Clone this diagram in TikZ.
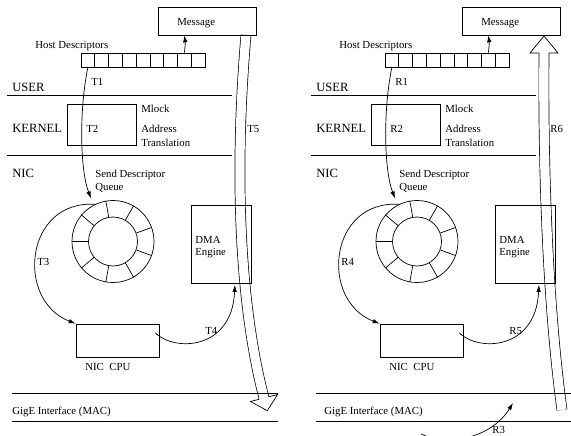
\documentclass[tikz,border=0pt]{standalone}
\usepackage{fontspec}
\setmainfont{Liberation Serif}
\usetikzlibrary{arrows.meta}
\begin{document}
\begin{tikzpicture}[x=1pt,y=-1pt, line width=0.7pt,
  sm/.style={font=\fontsize{10.8}{12}\selectfont, inner sep=0pt, anchor=base west},
  bg/.style={font=\fontsize{12.6}{14}\selectfont, inner sep=0pt, anchor=base west},
  boxn/.style={draw, inner sep=0pt},
  cell/.style={draw, inner sep=0pt, minimum width=13.78pt, minimum height=14pt},
  arr/.style={-{Latex[length=7pt,width=4.5pt]}},
  shaft/.style={double=white, double distance=9.3pt, line width=0.7pt},
]
\useasboundingbox (0,0) rectangle (571,436);
\clip (0,0) rectangle (571,436);

% ---- hollow data-transfer arrows (drawn first, boxes drawn over them)
\coordinate (t5a) at (246,35);
\coordinate (t5b) at (264,398);
\draw[shaft] (t5a) .. controls (236,150) and (236,290) .. (t5b);
\draw[fill=white] (259.2,399.3) -- (250.4,401.5) -- (267.3,410.6) -- (277.6,394.5) -- (268.8,396.7);

\coordinate (r6a) at (562,410);
\coordinate (r6b) at (544,53);
\draw[shaft] (r6a) .. controls (547,300) and (543,160) .. (r6b);
\draw[fill=white] (539,53) -- (530,53) -- (544,36) -- (558,53) -- (549,53);

\node[sm] (t5) at (247,132) {T5};
\node[sm] (r6) at (550,132) {R6};

% ---- two panels
\foreach \s/\dx/\la/\lb/\lc/\ld/\gx in {L/0/T1/T2/T3/T4/12, R/304/R1/R2/R4/R5/20} {
\begin{scope}[xshift=\dx pt]
  % message
  \node[boxn, minimum width=98pt, minimum height=28pt] (msg\s) at (207,21) {};
  \node[sm] (msgt\s) at (177,26) {Message};
  % host descriptors
  \node[sm] (hd\s) at (35,48.3) {Host Descriptors};
  \foreach \i in {0,...,8} {
    \node[cell] (d\s\i) at ({81+13.78*(\i+0.5)},60) {};
  }
  \draw[arr] (d\s7.north) to[bend right=8] (d\s7.north |- msg\s.south);
  \node[sm] (l1\s) at (91,86) {\la};
  % layers
  \node[bg] (user\s) at (12,91.5) {USER};
  \draw (7,95) -- (232,95);
  \node[bg] (kernl\s) at (12,132.5) {KERNEL};
  \node[boxn, minimum width=69pt, minimum height=41pt] (kern\s) at (101.5,124.5) {};
  \node[sm] (l2\s) at (86,132) {\lb};
  \node[sm] (ml\s) at (141,113) {Mlock};
  \node[sm] (ad\s) at (141,132) {Address};
  \node[sm] (tr\s) at (141,146.5) {Translation};
  \draw (7,155) -- (232,155);
  \node[bg] (nic\s) at (12,178) {NIC};
  \node[sm] (sdq\s) at (95,177.7) {Send Descriptor};
  \node[sm] (q\s) at (95,190.7) {Queue};
  % ring
  \node[draw, circle, minimum size=82pt, inner sep=0pt] (ring\s) at (113,241.5) {};
  \node[draw, circle, minimum size=49pt, inner sep=0pt] (hub\s) at (113,241.5) {};
  \foreach \a in {20,60,100,140,220,260,300,340} {
    \draw (hub\s.\a) -- (ring\s.\a);
  }
  \draw[line width=1.2pt] (hub\s.180) -- (ring\s.180);
  % T1
  \draw[arr, shorten >=7pt] (d\s0.south) .. controls (79,110) and (80,170) .. (ring\s.118);
  % NIC CPU
  \node[boxn, minimum width=83pt, minimum height=33pt] (cpu\s) at (117.5,340.5) {};
  \node[sm] (cput\s) at (85,370.7) {NIC\ \ CPU};
  % DMA
  \node[boxn, minimum width=60pt, minimum height=78pt] (dma\s) at (221,244) {};
  \node[sm] (dmat\s) at (195,243) {DMA};
  \node[sm] (eng\s) at (195,255) {Engine};
  % T3
  \draw[arr] (ring\s.116) .. controls (25,200) and (15,300) .. (cpu\s.north west);
  \node[sm] (l3\s) at (37,265) {\lc};
  % T4
  \draw[arr, shorten >=1.5pt] ([xshift=-4pt,yshift=7.5pt]cpu\s.east) .. controls (175,352) and (232,350) .. ([xshift=14pt]dma\s.south);
  \node[sm] (l4\s) at (205,334) {\ld};
  % GigE
  \draw (12,393) -- (278,393);
  \draw (12,421) -- (278,421);
  \node[sm] (gig\s) at (\gx,414) {GigE Interface (MAC)};
\end{scope}
}

% R3
\coordinate (r3s) at (421,434);
\coordinate (r3e) at (513,403);
\draw[arr] (r3s) .. controls (445,446) and (490,440) .. (r3e);
\node[sm] (r3) at (492,433) {R3};
\end{tikzpicture}
\end{document}
